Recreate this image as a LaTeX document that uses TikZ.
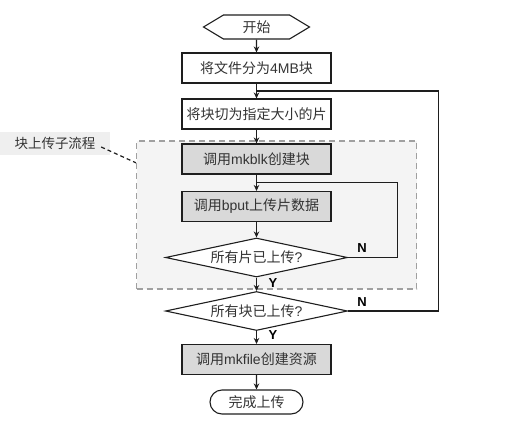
\documentclass[tikz,border=0pt]{standalone}
\usepackage{fontspec}
\setmainfont{Noto Sans CJK SC}
\newfontfamily\lat{Liberation Sans}
\usetikzlibrary{shapes.geometric,shapes.misc,shapes.symbols,arrows.meta,calc}
\definecolor{txt}{HTML}{333333}
\definecolor{edge}{HTML}{1E1E1E}
\definecolor{boxgray}{HTML}{D9D9D9}
\definecolor{regionfill}{HTML}{F4F4F4}
\definecolor{regionline}{HTML}{A0A0A0}
\definecolor{tagfill}{HTML}{EFEFEF}
\begin{document}
\begin{tikzpicture}[x=1pt,y=-1pt,
  base/.style={draw=edge, line width=1.1pt, text=txt, inner sep=0pt,
    font=\fontsize{14}{16}\selectfont},
  proc/.style={base, rectangle, minimum width=149pt, minimum height=30pt},
  gproc/.style={proc, fill=boxgray},
  decide/.style={base, diamond, aspect=4.6, minimum width=182pt, minimum height=39pt, fill=white},
  startnode/.style={base, signal, signal to=east and west, signal pointer angle=62,
    minimum width=106pt, minimum height=24pt},
  endnode/.style={base, rounded rectangle, minimum width=93pt, minimum height=24pt},
  region/.style={draw=regionline, fill=regionfill, line width=1.1pt,
    dash pattern=on 6pt off 4pt, minimum width=280pt, minimum height=148pt},
  tag/.style={fill=tagfill, text=txt, inner sep=0pt, minimum width=110pt, minimum height=23pt,
    font=\fontsize{13.5}{15}\selectfont},
  flow/.style={draw=edge, line width=1.2pt, -{Stealth[length=6pt,width=5.5pt]}},
  loopline/.style={draw=edge, line width=1.4pt},
  tagline/.style={draw=edge, line width=1.2pt, dash pattern=on 4pt off 3pt},
  yn/.style={font=\lat\bfseries\fontsize{13}{15}\selectfont, text=black, inner sep=0pt}
]
\useasboundingbox (0,0) rectangle (528,424);

\node[region] (sub) at (276.5,215) {};
\node[tag] (tag) at (55,143.5) {块上传子流程};

\node[startnode] (start) at (256.5,27) {开始};
\node[proc] (b1) at (256.5,68) {将文件分为{\lat 4MB}块};
\node[proc] (b2) at (256.5,114) {将块切为指定大小的片};
\node[gproc] (b3) at (256.5,159) {调用{\lat mkblk}创建块};
\node[gproc] (b4) at (256.5,206.5) {调用{\lat bput}上传片数据};
\node[decide] (d1) at (256.5,257.5) {所有片已上传{\lat ?}};
\node[decide] (d2) at (256.5,311) {所有块已上传{\lat ?}};
\node[gproc] (b5) at (256.5,359.5) {调用{\lat mkfile}创建资源};
\node[endnode] (end) at (256.5,402) {完成上传};

\coordinate (j1) at ($(b3.south)!0.5!(b4.north)$);
\coordinate (j2) at ($(b1.south)!0.5!(b2.north)$);
\coordinate (tagend) at ($(sub.north west)!0.15!(sub.south west)$);

\draw[flow] (start) -- (b1);
\draw[flow] (b1) -- (b2);
\draw[flow] (b2) -- (b3);
\draw[flow] (b3) -- (b4);
\draw[flow] (b4) -- (d1);
\draw[flow] (d1) -- node[yn, xshift=16.5pt, yshift=1.5pt] {Y} (d2);
\draw[flow] (d2) -- node[yn, xshift=16.5pt, yshift=2pt] {Y} (b5);
\draw[flow] (b5) -- (end);

\draw[loopline] (d1.east) -- node[yn, at start, xshift=14pt, yshift=9.5pt] {N} ++(49.5,0) |- (j1);
\draw[loopline] (d2.east) -- node[yn, at start, xshift=14pt, yshift=9pt] {N} ++(90.5,0) |- (j2);

\draw[tagline] ([xshift=-9pt,yshift=-3.5pt]tag.east) -- (tagend);
\end{tikzpicture}
\end{document}
